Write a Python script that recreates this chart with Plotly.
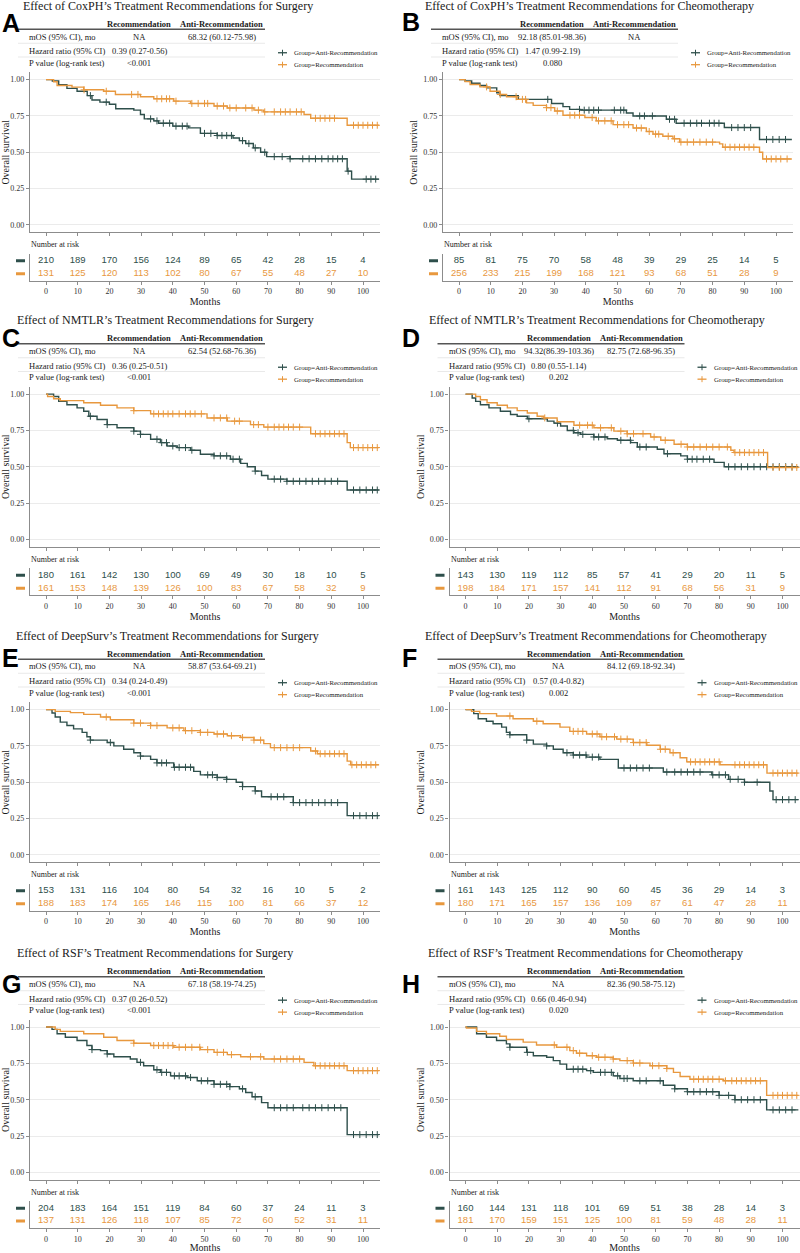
import numpy as np
import plotly.graph_objects as go

# ---------------------------------------------------------------- data
MONTHS = [0, 10, 20, 30, 40, 50, 60, 70, 80, 90, 100]
FOLLOW_END = 105
ROW_LABELS = ["mOS (95% CI), mo", "Hazard ratio (95% CI)", "P value (log-rank test)"]
COL_LABELS = ["Recommendation", "Anti-Recommendation"]
GROUP_LABELS = ["Group=Anti-Recommendation", "Group=Recommendation"]

# ---- A: CoxPH, surgery
A_title = "Effect of CoxPH’s Treatment Recommendations for Surgery"
A_anti_t = [2, 4, 6.6, 9.8, 13, 14.5, 17, 20, 22, 27.7, 29.8, 31, 34, 35.5, 40, 45, 48.7, 54, 59, 61, 63, 65.4, 67.7, 69.6, 77, 95, 96.4]
A_anti_s = [0.99, 0.965, 0.94, 0.92, 0.89, 0.86, 0.845, 0.83, 0.80, 0.79, 0.76, 0.73, 0.716, 0.70, 0.68, 0.668, 0.63, 0.615, 0.598, 0.58, 0.56, 0.53, 0.50, 0.47, 0.455, 0.37, 0.315]
A_anti_cens = [14, 19, 33, 35, 37, 39, 41, 43, 44.5, 50, 52, 54, 55.5, 57, 58.5, 62, 64, 66, 69, 72, 74.5, 77, 81, 83, 85, 87, 89, 90.5, 92, 93.5, 95.3, 101, 102.5, 104]
A_rec_t = [2.4, 3.5, 8.2, 11.9, 18.2, 21.9, 29.8, 34, 40.3, 45.6, 53, 57.2, 65.6, 68.7, 81.4, 83.5, 95]
A_rec_s = [0.985, 0.96, 0.948, 0.93, 0.92, 0.898, 0.882, 0.868, 0.852, 0.836, 0.818, 0.805, 0.79, 0.778, 0.76, 0.734, 0.686]
A_rec_cens = [12, 19, 27, 29, 35, 36.5, 38, 39, 41, 46, 48, 50, 51, 54, 56, 58, 60, 63, 65, 67, 69, 72, 74, 75.5, 77, 79, 80.5, 85, 86.5, 88, 89.5, 91, 97, 98.5, 100, 101.5, 103, 104.5]
A_risk_anti = [210, 189, 170, 156, 124, 89, 65, 42, 28, 15, 4]
A_risk_rec = [131, 125, 120, 113, 102, 80, 67, 55, 48, 27, 10]
A_table = [["NA", "68.32 (60.12-75.98)"], ["0.39 (0.27-0.56)", ""], ["<0.001", ""]]

# ---- B: CoxPH, chemotherapy
B_title = "Effect of CoxPH’s Treatment Recommendations for Cheomotherapy"
B_anti_t = [1.9, 4, 6.6, 8.7, 11.9, 12.9, 18.7, 29.2, 32.8, 34.9, 38.1, 52.8, 54.9, 65.4, 68.5, 83.7, 94.8]
B_anti_s = [0.99, 0.975, 0.96, 0.943, 0.91, 0.89, 0.864, 0.836, 0.814, 0.795, 0.79, 0.77, 0.75, 0.727, 0.70, 0.67, 0.588]
B_anti_cens = [28, 38, 39.5, 41, 42.5, 44, 49, 51, 52, 57, 58.5, 61, 66.4, 68, 71, 73, 75, 76.5, 79, 80.5, 82, 86, 88, 90, 92, 97, 99, 101, 103]
B_rec_t = [1.9, 3.5, 6.6, 9.8, 12.9, 15, 18.2, 21.3, 23.4, 27.6, 30.2, 32.8, 39.7, 43.3, 48.6, 54.9, 59.1, 61.2, 64.3, 67.5, 69.6, 82.2, 83.2, 94.8, 95.8]
B_rec_s = [0.986, 0.966, 0.95, 0.92, 0.898, 0.882, 0.864, 0.84, 0.823, 0.807, 0.784, 0.755, 0.739, 0.716, 0.69, 0.667, 0.643, 0.625, 0.61, 0.593, 0.57, 0.558, 0.535, 0.50, 0.454]
B_rec_cens = [8.7, 13, 18, 20, 21, 27.6, 29, 31, 35, 36.5, 38, 42, 44, 46, 48, 50, 52, 53.5, 56, 57.5, 60, 62, 63, 66, 68, 70, 72, 74, 76, 78, 80, 84, 85.5, 87, 88.5, 90, 91.5, 93, 97, 98.5, 100, 101.5, 103.5]
B_risk_anti = [85, 81, 75, 70, 58, 48, 39, 29, 25, 14, 5]
B_risk_rec = [256, 233, 215, 199, 168, 121, 93, 68, 51, 28, 9]
B_table = [["92.18 (85.01-98.36)", "NA"], ["1.47 (0.99-2.19)", ""], ["0.080", ""]]

# ---- C: NMTLR, surgery
C_title = "Effect of NMTLR’s Treatment Recommendations for Surgery"
C_anti_t = [2.4, 4, 6.6, 9.8, 11.9, 13.5, 16.1, 19.3, 22.4, 27.7, 29.8, 33, 36.1, 38.2, 41.4, 45.6, 48.7, 53, 58.2, 61.4, 63.5, 66, 68, 70, 76, 95]
C_anti_s = [0.984, 0.95, 0.927, 0.905, 0.882, 0.848, 0.825, 0.79, 0.768, 0.745, 0.723, 0.689, 0.666, 0.643, 0.632, 0.614, 0.586, 0.575, 0.552, 0.523, 0.50, 0.47, 0.44, 0.415, 0.40, 0.34]
C_anti_cens = [14, 19.3, 27.7, 29.8, 35, 36.5, 38, 40, 42, 44, 46, 53, 55, 57, 59, 61, 66, 72, 74, 76, 78, 80, 82, 84, 86, 88, 90, 92, 97, 99, 101, 103, 104.5]
C_rec_t = [0.5, 2.4, 4.5, 11.9, 17.2, 22.4, 27.7, 33, 50.8, 57.2, 64.5, 68.7, 83.5, 95, 96]
C_rec_s = [0.984, 0.968, 0.955, 0.94, 0.923, 0.905, 0.886, 0.864, 0.836, 0.814, 0.79, 0.773, 0.727, 0.666, 0.632]
C_rec_cens = [27.7, 34, 35.5, 37, 38.5, 40, 42, 44, 45.5, 47, 49, 53, 55, 57, 59.5, 61, 65.5, 67, 70, 72, 73.5, 75, 76.5, 78, 80, 85, 86.5, 88, 89.5, 91, 92.5, 94, 97, 98.5, 100, 101.5, 103, 104.5]
C_risk_anti = [180, 161, 142, 130, 100, 69, 49, 30, 18, 10, 5]
C_risk_rec = [161, 153, 148, 139, 126, 100, 83, 67, 58, 32, 9]
C_table = [["NA", "62.54 (52.68-76.36)"], ["0.36 (0.25-0.51)", ""], ["<0.001", ""]]

# ---- D: NMTLR, chemotherapy
D_title = "Effect of NMTLR’s Treatment Recommendations for Cheomotherapy"
D_anti_t = [2.1, 3.2, 4.7, 7.4, 11, 14.2, 16.3, 19.5, 25.8, 27.9, 30, 32.1, 34.2, 36.3, 40.5, 44.7, 47.9, 52.1, 54.2, 60.5, 62.6, 67.9, 70, 78.4, 81.6]
D_anti_s = [0.973, 0.95, 0.927, 0.905, 0.882, 0.86, 0.848, 0.83, 0.814, 0.80, 0.78, 0.75, 0.734, 0.723, 0.705, 0.693, 0.682, 0.666, 0.636, 0.62, 0.59, 0.575, 0.552, 0.53, 0.50]
D_anti_cens = [20, 29, 34, 35.5, 37, 40.5, 42, 44, 49, 52, 55, 57, 63.7, 70, 71.5, 73, 75, 77, 83, 85, 87, 89, 91, 93, 95, 97, 99, 101, 103]
D_rec_t = [3.2, 4.7, 6.8, 10, 13.2, 16.3, 19.5, 22.6, 24.7, 28.9, 34.2, 40.5, 46.8, 51, 58.4, 61.6, 65.8, 70, 83.7, 84.7, 95.3]
D_rec_s = [0.984, 0.961, 0.94, 0.923, 0.905, 0.886, 0.87, 0.848, 0.836, 0.81, 0.786, 0.768, 0.745, 0.727, 0.705, 0.682, 0.655, 0.636, 0.614, 0.598, 0.495]
D_rec_cens = [25, 36, 38.5, 40, 42.6, 46, 49, 51, 53, 56, 59.5, 63, 68, 70, 72, 74, 76, 78, 80, 82.6, 85, 86.5, 88, 89.5, 91, 92.5, 94, 97, 99, 101, 103, 104.5]
D_risk_anti = [143, 130, 119, 112, 85, 57, 41, 29, 20, 11, 5]
D_risk_rec = [198, 184, 171, 157, 141, 112, 91, 68, 56, 31, 9]
D_table = [["94.32(86.39-103.36)", "82.75 (72.68-96.35)"], ["0.80 (0.55-1.14)", ""], ["0.202", ""]]

# ---- E: DeepSurv, surgery
E_title = "Effect of DeepSurv’s Treatment Recommendations for Surgery"
E_anti_t = [1.9, 2.9, 4.5, 6.6, 8.7, 11.4, 12.9, 14, 19.3, 21.4, 24.5, 27.7, 29.8, 33, 35, 40.3, 46.6, 48.7, 54, 57, 60, 62, 66, 68, 78, 95]
E_anti_s = [0.977, 0.949, 0.914, 0.89, 0.867, 0.843, 0.813, 0.79, 0.773, 0.75, 0.727, 0.703, 0.68, 0.657, 0.633, 0.603, 0.575, 0.551, 0.533, 0.52, 0.50, 0.47, 0.44, 0.40, 0.36, 0.27]
E_anti_cens = [14, 20.3, 29.8, 35, 36.5, 38, 40.5, 42, 44, 45.6, 51, 52.5, 54, 57, 62, 66, 71, 73, 75, 78, 80, 82, 84, 86, 88, 90, 92, 97, 99, 101, 103, 104.5]
E_rec_t = [2.9, 7.7, 11.9, 17.2, 20.3, 27.7, 33, 38.2, 43.5, 48.7, 53, 57.2, 61.4, 65.6, 68.7, 70.8, 83.5, 85.6, 95, 96.1]
E_rec_s = [0.988, 0.979, 0.967, 0.949, 0.93, 0.907, 0.89, 0.874, 0.855, 0.843, 0.832, 0.82, 0.808, 0.79, 0.766, 0.738, 0.715, 0.696, 0.645, 0.62]
E_rec_cens = [19, 27.7, 29.8, 33, 35, 40, 42, 44, 46, 48.7, 51, 54, 56, 58.5, 62, 65.6, 67.7, 72, 74, 76, 78, 80, 85, 86.5, 88, 89.5, 91, 92.5, 94, 96.5, 98, 99.5, 101, 102.5, 104]
E_risk_anti = [153, 131, 116, 104, 80, 54, 32, 16, 10, 5, 2]
E_risk_rec = [188, 183, 174, 165, 146, 115, 100, 81, 66, 37, 12]
E_table = [["NA", "58.87 (53.64-69.21)"], ["0.34 (0.24-0.49)", ""], ["<0.001", ""]]

# ---- F: DeepSurv, chemotherapy
F_title = "Effect of DeepSurv’s Treatment Recommendations for Cheomotherapy"
F_anti_t = [2.6, 4, 6.6, 8.7, 11.4, 12.9, 14, 19.3, 21.4, 25.6, 27.7, 30.8, 34, 38.2, 42.4, 48.2, 62.4, 77.7, 83, 88, 96, 97]
F_anti_s = [0.972, 0.937, 0.92, 0.902, 0.879, 0.843, 0.827, 0.79, 0.762, 0.75, 0.727, 0.703, 0.687, 0.673, 0.657, 0.598, 0.57, 0.551, 0.52, 0.50, 0.44, 0.38]
F_anti_cens = [14, 19.3, 25.6, 32, 34, 36, 38, 40, 42, 50, 52, 54, 56, 58, 63.5, 66, 68, 70, 72, 74, 78, 80, 82, 83.5, 86, 88, 92, 98, 100, 102, 104]
F_rec_t = [1.9, 4.5, 9.8, 15, 21.4, 24.5, 29.8, 32.9, 38.2, 42.4, 47.7, 52.9, 57.2, 61.4, 64.5, 67.7, 69.8, 80.3, 95.1]
F_rec_s = [0.988, 0.972, 0.956, 0.937, 0.92, 0.902, 0.879, 0.85, 0.832, 0.813, 0.797, 0.773, 0.755, 0.727, 0.703, 0.668, 0.64, 0.62, 0.563]
F_rec_cens = [14, 22.5, 34, 35.5, 37, 40, 41.5, 43, 44.5, 47, 49, 51, 53, 55, 57, 61.5, 63, 65.5, 71, 72.5, 74, 75.5, 77, 78.5, 80, 85, 86.5, 88, 89.5, 91, 92.5, 94, 97, 98.5, 100, 101.5, 103, 104.5]
F_risk_anti = [161, 143, 125, 112, 90, 60, 45, 36, 29, 14, 3]
F_risk_rec = [180, 171, 165, 157, 136, 109, 87, 61, 47, 28, 11]
F_table = [["NA", "84.12 (69.18-92.34)"], ["0.57 (0.4-0.82)", ""], ["0.002", ""]]

# ---- G: RSF, surgery
G_title = "Effect of RSF’s Treatment Recommendations for Surgery"
G_anti_t = [1.9, 3.5, 6.1, 9.8, 12.9, 14.5, 17.2, 19.3, 21.4, 26.6, 28.7, 30.8, 34, 36.1, 39.3, 44.5, 47.7, 53, 58, 61, 63, 65, 68, 70, 95]
G_anti_s = [0.984, 0.954, 0.93, 0.907, 0.873, 0.845, 0.838, 0.815, 0.796, 0.78, 0.757, 0.734, 0.706, 0.688, 0.664, 0.653, 0.63, 0.606, 0.59, 0.575, 0.55, 0.52, 0.48, 0.445, 0.26]
G_anti_cens = [14.5, 19.3, 29.8, 35, 36.5, 38, 40.5, 42, 44, 45.6, 49, 51, 53, 55, 57, 58, 62, 66, 72, 74, 76, 78, 81, 83, 85, 87, 89, 91, 93, 97, 99, 101, 103, 104.5]
G_rec_t = [2.9, 4.5, 11.9, 18.2, 22.4, 27.7, 33, 40.3, 48.7, 53, 57.2, 61.4, 68.7, 81.4, 84.5, 95]
G_rec_s = [0.984, 0.97, 0.954, 0.93, 0.907, 0.889, 0.873, 0.861, 0.845, 0.826, 0.81, 0.796, 0.78, 0.757, 0.734, 0.70]
G_rec_cens = [27.7, 34, 35.5, 37, 38.5, 40, 42, 44, 46, 48.5, 51, 54, 56, 58.5, 64.5, 67.7, 72, 74, 76, 78, 80, 85, 86.5, 88, 89.5, 91, 92.5, 94, 97, 98.5, 100, 101.5, 103, 104.5]
G_risk_anti = [204, 183, 164, 151, 119, 84, 60, 37, 24, 11, 3]
G_risk_rec = [137, 131, 126, 118, 107, 85, 72, 60, 52, 31, 11]
G_table = [["NA", "67.18 (58.19-74.25)"], ["0.37 (0.26-0.52)", ""], ["<0.001", ""]]

# ---- H: RSF, chemotherapy
H_title = "Effect of RSF’s Treatment Recommendations for Cheomotherapy"
H_anti_t = [3.5, 6.6, 9.8, 12.9, 14, 19.3, 21.4, 25.6, 27.7, 29.8, 31.9, 38.2, 40.3, 46.6, 48.7, 52.9, 62.4, 66, 70, 80, 85, 95]
H_anti_s = [0.954, 0.93, 0.907, 0.884, 0.861, 0.826, 0.803, 0.792, 0.769, 0.745, 0.71, 0.70, 0.688, 0.664, 0.646, 0.63, 0.60, 0.575, 0.555, 0.53, 0.50, 0.43]
H_anti_cens = [14, 19.5, 34, 35.5, 37, 39.5, 42.6, 44, 46, 48, 50, 51, 55, 57, 61.4, 66, 70, 72, 74, 76, 78, 80, 83, 85, 87, 89, 91, 93, 97, 99, 101, 103]
H_rec_t = [0.3, 3.5, 6.6, 10.8, 12.9, 18.2, 22.4, 28.7, 32.9, 35, 38.2, 41.4, 46.6, 48.7, 52.9, 58.2, 63.5, 65.6, 67.7, 70.8, 81.4, 95]
H_rec_s = [0.993, 0.97, 0.954, 0.937, 0.914, 0.896, 0.877, 0.861, 0.838, 0.82, 0.803, 0.792, 0.78, 0.769, 0.752, 0.734, 0.715, 0.688, 0.66, 0.641, 0.63, 0.53]
H_rec_cens = [28, 32, 34, 36, 40, 42, 44, 46.6, 51, 53, 55, 59, 61, 63.5, 72, 73.5, 75, 76.5, 78, 80, 82, 84, 85.5, 87, 88.5, 90, 91.5, 93, 97, 98.5, 100, 101.5, 103, 104.5]
H_risk_anti = [160, 144, 131, 118, 101, 69, 51, 38, 28, 14, 3]
H_risk_rec = [181, 170, 159, 151, 125, 100, 81, 59, 48, 28, 11]
H_table = [["NA", "82.36 (90.58-75.12)"], ["0.66 (0.46-0.94)", ""], ["0.020", ""]]

PANELS = [
    ("A", A_title, (A_anti_t, A_anti_s, A_anti_cens), (A_rec_t, A_rec_s, A_rec_cens), A_risk_anti, A_risk_rec, A_table),
    ("B", B_title, (B_anti_t, B_anti_s, B_anti_cens), (B_rec_t, B_rec_s, B_rec_cens), B_risk_anti, B_risk_rec, B_table),
    ("C", C_title, (C_anti_t, C_anti_s, C_anti_cens), (C_rec_t, C_rec_s, C_rec_cens), C_risk_anti, C_risk_rec, C_table),
    ("D", D_title, (D_anti_t, D_anti_s, D_anti_cens), (D_rec_t, D_rec_s, D_rec_cens), D_risk_anti, D_risk_rec, D_table),
    ("E", E_title, (E_anti_t, E_anti_s, E_anti_cens), (E_rec_t, E_rec_s, E_rec_cens), E_risk_anti, E_risk_rec, E_table),
    ("F", F_title, (F_anti_t, F_anti_s, F_anti_cens), (F_rec_t, F_rec_s, F_rec_cens), F_risk_anti, F_risk_rec, F_table),
    ("G", G_title, (G_anti_t, G_anti_s, G_anti_cens), (G_rec_t, G_rec_s, G_rec_cens), G_risk_anti, G_risk_rec, G_table),
    ("H", H_title, (H_anti_t, H_anti_s, H_anti_cens), (H_rec_t, H_rec_s, H_rec_cens), H_risk_anti, H_risk_rec, H_table),
]

# ---------------------------------------------------------------- style / geometry
W, H = 800, 1253
GREEN = "#2E4F4B"
ORANGE = "#E8983E"
INK = "#1a1a1a"
AXIS = "#8c8c8c"
GRID = "#EBEBEB"
SERIF = "Liberation Serif"
SANS = "Liberation Sans"

# panel offsets (px), title x (px), panel-letter vertical centre (px, relative)
GEOM = {
    "A": dict(ox=0, oy=0, tx=21, ly=23.5),
    "B": dict(ox=413, oy=0, tx=423, ly=22),
    "C": dict(ox=0, oy=316, tx=15, ly=24),
    "D": dict(ox=419.5, oy=316, tx=427, ly=24),
    "E": dict(ox=0, oy=633, tx=14, ly=28),
    "F": dict(ox=419.5, oy=633, tx=423, ly=28),
    "G": dict(ox=0, oy=952, tx=15, ly=37),
    "H": dict(ox=419.5, oy=952, tx=426, ly=37),
}


def X(px):
    return px / W


def Y(py):
    return 1 - py / H


def surv_at(ts, ss, c):
    idx = np.searchsorted(np.asarray(ts), c, side="right") - 1
    return 1.0 if idx < 0 else ss[idx]


fig = go.Figure()
axes = {}
shapes = []
annots = []


def ann(text, px, py, size, family=SERIF, color=INK, xanchor="left"):
    annots.append(dict(text=text, x=X(px), y=Y(py), xref="paper", yref="paper",
                       showarrow=False, xanchor=xanchor, yanchor="middle",
                       font=dict(family=family, size=size, color=color)))


def hline(x0, x1, py, color, width):
    shapes.append(dict(type="line", xref="paper", yref="paper", x0=X(x0), x1=X(x1),
                       y0=Y(py), y1=Y(py), line=dict(color=color, width=width)))


def vline(px, y0, y1, color, width):
    shapes.append(dict(type="line", xref="paper", yref="paper", x0=X(px), x1=X(px),
                       y0=Y(y0), y1=Y(y1), line=dict(color=color, width=width)))


XR = [-5.05, 105.36]

for i, (letter, title, anti, rec, risk_anti, risk_rec, table) in enumerate(PANELS):
    g = GEOM[letter]
    ox, oy = g["ox"], g["oy"]
    k1, k2 = 2 * i + 1, 2 * i + 2
    xn1 = "x" if k1 == 1 else f"x{k1}"
    yn1 = "y" if k1 == 1 else f"y{k1}"
    xn2, yn2 = f"x{k2}", f"y{k2}"
    xk1 = "xaxis" if k1 == 1 else f"xaxis{k1}"
    yk1 = "yaxis" if k1 == 1 else f"yaxis{k1}"
    xdom = [X(ox + 30), X(ox + 380)]

    # --- KM axes
    axes[xk1] = dict(domain=xdom, range=XR, anchor=yn1, tickvals=MONTHS, showticklabels=False,
                     ticks="outside", ticklen=3, tickcolor=AXIS, showline=True, linecolor=AXIS,
                     linewidth=1.2, showgrid=False, zeroline=False, fixedrange=True)
    axes[yk1] = dict(domain=[Y(oy + 233.3), Y(oy + 72.7)], range=[-0.05, 1.05], anchor=xn1,
                     tickvals=[0, 0.25, 0.5, 0.75, 1.0],
                     ticktext=["0.00", "0.25", "0.50", "0.75", "1.00"],
                     tickfont=dict(family=SERIF, size=8, color="#333"),
                     ticks="outside", ticklen=3, tickcolor=AXIS, showline=True, linecolor=AXIS,
                     linewidth=1.2, showgrid=True, gridcolor=GRID, gridwidth=0.8, zeroline=False,
                     title=dict(text="Overall survival", font=dict(family=SERIF, size=10, color=INK),
                                standoff=3), fixedrange=True)
    # --- risk table axes
    axes[f"xaxis{k2}"] = dict(domain=xdom, range=XR, anchor=yn2, tickvals=MONTHS,
                              ticktext=[str(m) for m in MONTHS],
                              tickfont=dict(family=SERIF, size=8, color="#333"),
                              ticks="outside", ticklen=3, tickcolor=AXIS, showline=True,
                              linecolor=AXIS, linewidth=1.2, showgrid=False, zeroline=False,
                              title=dict(text="Months", font=dict(family=SERIF, size=10, color=INK),
                                         standoff=2), fixedrange=True)
    axes[f"yaxis{k2}"] = dict(domain=[Y(oy + 282), Y(oy + 255)], range=[0.46, 2.54], anchor=xn2,
                              showticklabels=False, ticks="", showline=True, linecolor=AXIS,
                              linewidth=1.2, showgrid=False, zeroline=False, fixedrange=True)

    # --- KM curves
    for (ts, ss, cens), col, name in ((anti, GREEN, GROUP_LABELS[0]), (rec, ORANGE, GROUP_LABELS[1])):
        fig.add_trace(go.Scatter(x=[0] + ts + [FOLLOW_END], y=[1.0] + ss + [ss[-1]],
                                 mode="lines", line=dict(color=col, width=1.4, shape="hv"),
                                 name=name, xaxis=xn1, yaxis=yn1, showlegend=False,
                                 hoverinfo="skip"))
        fig.add_trace(go.Scatter(x=cens, y=[surv_at(ts, ss, c) for c in cens], mode="markers",
                                 marker=dict(symbol="cross-thin", size=5, line=dict(color=col, width=1)),
                                 name=name + " (censored)", xaxis=xn1, yaxis=yn1,
                                 showlegend=False, hoverinfo="skip"))

    # --- risk numbers
    for vals, row, col in ((risk_anti, 2, GREEN), (risk_rec, 1, ORANGE)):
        fig.add_trace(go.Scatter(x=MONTHS, y=[row] * len(MONTHS), mode="text",
                                 text=[str(v) for v in vals],
                                 textfont=dict(family=SANS, size=9.5, color=col),
                                 xaxis=xn2, yaxis=yn2, showlegend=False, hoverinfo="skip"))
        shapes.append(dict(type="line", xref="paper", yref=yn2, x0=X(ox + 16), x1=X(ox + 25),
                           y0=row, y1=row, line=dict(color=col, width=3)))

    # --- title, letter
    ann(title, g["tx"], oy + 6, 12)
    annots.append(dict(text="<b>" + letter + "</b>", x=X(0 if ox == 0 else 400), y=Y(oy + g["ly"]),
                       xref="paper", yref="paper", showarrow=False, xanchor="left",
                       yanchor="middle", font=dict(family=SANS, size=25, color="black")))

    # --- summary table
    cx = [ox + 139, ox + 221.5]
    for c, lab in enumerate(COL_LABELS):
        ann("<b>" + lab + "</b>", cx[c], oy + 24, 8.5, xanchor="center")
    hline(ox + 18, ox + 265, oy + 29.5, "#555555", 1.5)
    row_y = [oy + 36.7, oy + 51.5, oy + 63]
    for r, lab in enumerate(ROW_LABELS):
        ann(lab, ox + 27, row_y[r], 8.5)
        for c in range(2):
            if table[r][c]:
                ann(table[r][c], cx[c], row_y[r], 8.5, xanchor="center")
    hline(ox + 18, ox + 265, oy + 43.5, "#E3E3E3", 0.8)
    hline(ox + 18, ox + 265, oy + 57.3, "#E3E3E3", 0.8)

    # --- legend
    for j, (lab, col) in enumerate(zip(GROUP_LABELS, (GREEN, ORANGE))):
        ly = oy + 53 + 12 * j
        hline(ox + 278, ox + 287, ly, col, 1.3)
        vline(ox + 282.5, ly - 3, ly + 3, col, 1)
        ann(lab, ox + 292, ly, 6.8)

    # --- number at risk
    ann("Number at risk", ox + 29, oy + 246, 8)

fig.update_layout(width=W, height=H, autosize=False, margin=dict(l=0, r=0, t=0, b=0),
                  paper_bgcolor="white", plot_bgcolor="white", showlegend=False,
                  shapes=shapes, annotations=annots, **axes)

fig.write_html("out.html", config={"displayModeBar": False},
               post_script="document.body.style.margin='0px';")
